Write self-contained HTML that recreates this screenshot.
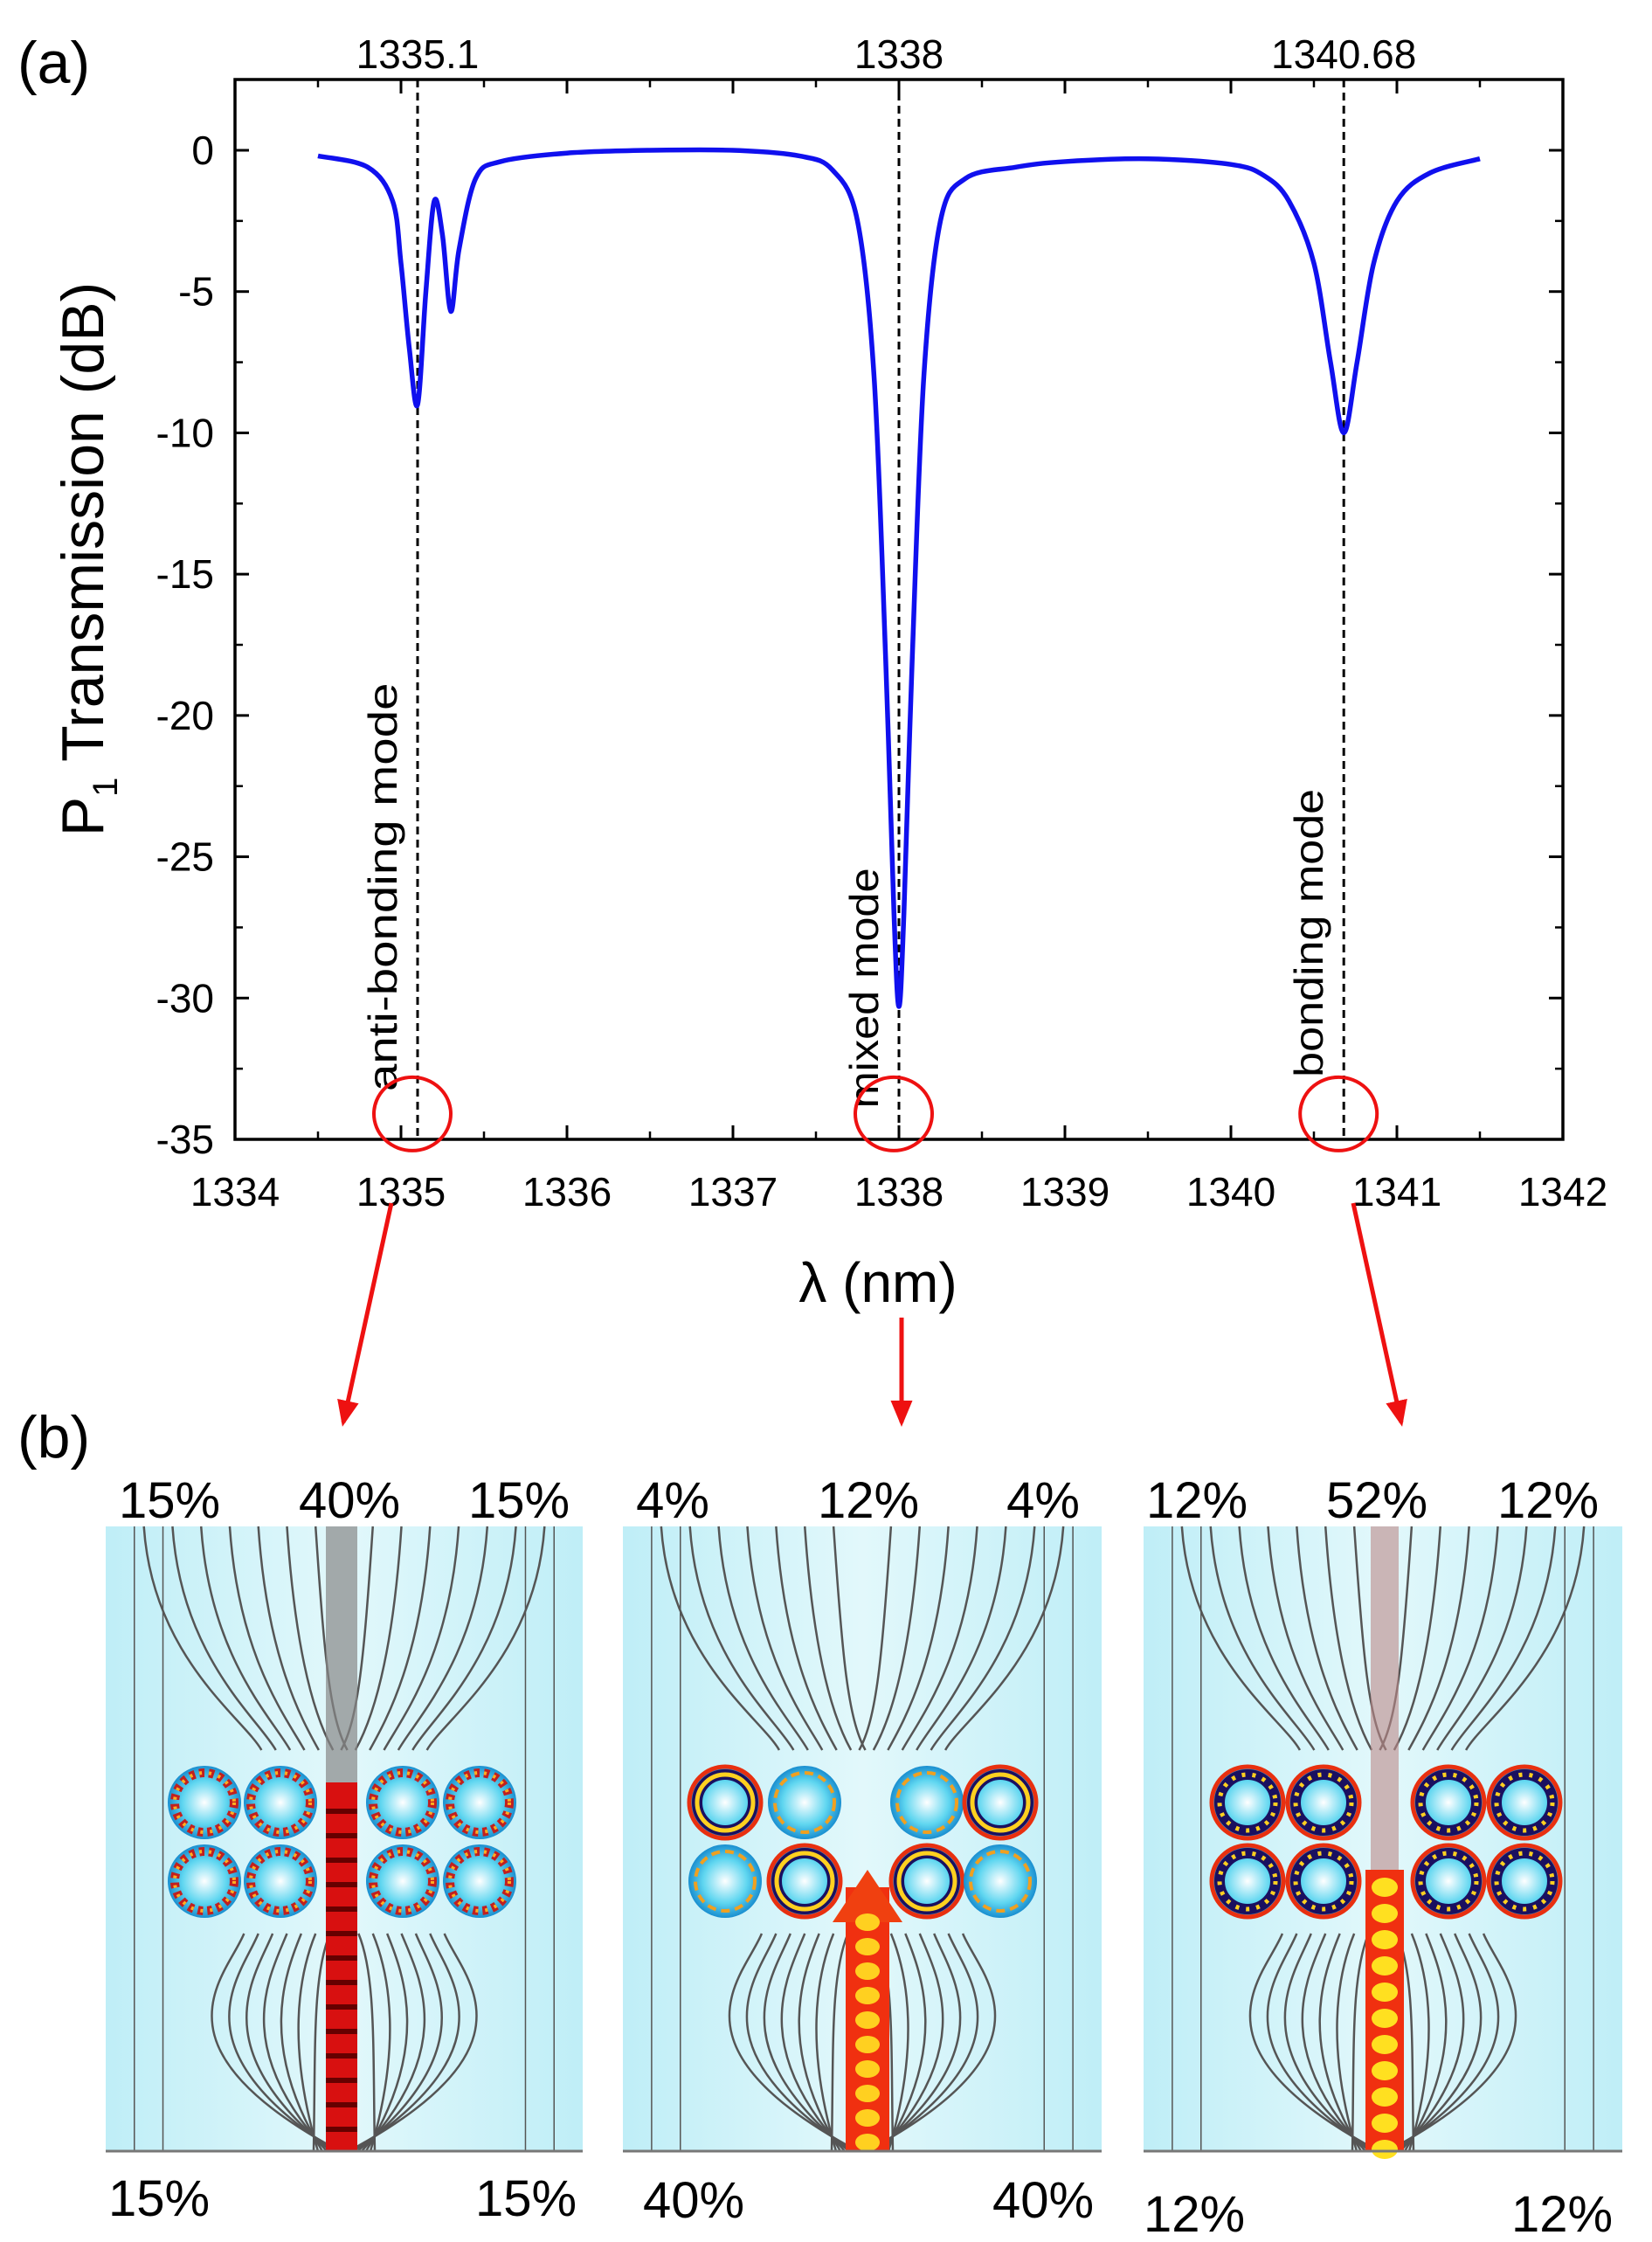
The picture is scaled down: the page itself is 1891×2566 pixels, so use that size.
<!DOCTYPE html>
<html><head><meta charset="utf-8"><style>
html,body{margin:0;padding:0;background:#fff;}
svg{display:block;font-family:"Liberation Sans",Arial,sans-serif;}
</style></head><body>
<svg id="fig" width="1891" height="2566" viewBox="0 0 1891 2566" xmlns="http://www.w3.org/2000/svg">
<defs>
<marker id="ah" markerWidth="30" markerHeight="30" refX="10" refY="5" orient="auto" markerUnits="userSpaceOnUse" viewBox="0 0 12 10"><path d="M0,0 L12,5 L0,10 z" fill="#ee1111"/></marker>
<linearGradient id="bgc" x1="0" x2="1"><stop offset="0" stop-color="#bfeef7"/><stop offset="0.5" stop-color="#e2f8fb"/><stop offset="1" stop-color="#bfeef7"/></linearGradient>
<radialGradient id="ringIn"><stop offset="0" stop-color="#ffffff"/><stop offset="0.6" stop-color="#5fd6f0"/><stop offset="1" stop-color="#1a8fd0"/></radialGradient>
</defs>
<text x="20" y="95" font-size="68">(a)</text>
<rect x="269" y="91" width="1520" height="1213" fill="none" stroke="#000" stroke-width="3.5"/>
<g id="chart-a"></g>
<text x="1005" y="1490" font-size="64" text-anchor="middle">λ (nm)</text>
<text transform="translate(118,640) rotate(-90)" font-size="68" text-anchor="middle">P<tspan font-size="40" dy="16">1</tspan><tspan dy="-16"> Transmission (dB)</tspan></text>
<line x1="448" y1="1377" x2="393" y2="1628" stroke="#ee1111" stroke-width="5" marker-end="url(#ah)"/>
<line x1="1032" y1="1508" x2="1032" y2="1628" stroke="#ee1111" stroke-width="5" marker-end="url(#ah)"/>
<line x1="1549" y1="1377" x2="1604" y2="1628" stroke="#ee1111" stroke-width="5" marker-end="url(#ah)"/>
<text x="20" y="1668" font-size="68">(b)</text>
<g id="panels-b"></g>
</svg>
<script>
var wavelengths = [1334.5,1334.8,1334.95,1335.0,1335.05,1335.1,1335.15,1335.2,1335.25,1335.3,1335.35,1335.45,1335.6,1336.0,1336.5,1337.0,1337.4,1337.6,1337.75,1337.85,1337.92,1337.97,1338.0,1338.03,1338.08,1338.15,1338.25,1338.4,1338.7,1339.0,1339.5,1340.0,1340.2,1340.35,1340.5,1340.6,1340.68,1340.76,1340.86,1341.0,1341.2,1341.5];
var transmissionDB = [-0.2,-0.6,-1.8,-4,-7,-9,-5,-1.8,-3,-5.7,-3.5,-1,-0.4,-0.1,0,0,-0.2,-0.7,-2.5,-8,-18,-27,-30.3,-27,-18,-8,-2.5,-1,-0.6,-0.4,-0.3,-0.5,-0.9,-1.8,-4,-7.5,-10,-7.5,-4,-1.8,-0.8,-0.3];
var xTicks = [1334,1335,1336,1337,1338,1339,1340,1341,1342];
var yTicks = [0,-5,-10,-15,-20,-25,-30,-35];
var modeWavelengths = [1335.1,1338,1340.68];
var modeTopLabels = ["1335.1","1338","1340.68"];
var modeNames = ["anti-bonding mode","mixed mode","bonding mode"];
var modeLabelDB = [-33.3,-33.9,-32.8];

var PL=269,PR=1789,PT0=91,PB0=1304,Y0=172;
var xMin=1334,xMax=1342,yMin=-35,yMax=0;
function sx(v){return PL+(v-xMin)/(xMax-xMin)*(PR-PL);}
function sy(v){return Y0+(v-yMax)/(yMin-yMax)*(PB0-Y0);}
var SVGNS="http://www.w3.org/2000/svg";
function mk(tag,attrs,parent,text){var e=document.createElementNS(SVGNS,tag);for(var k in attrs){e.setAttribute(k,String(attrs[k]));}if(text!==undefined){e.textContent=text;}parent.appendChild(e);return e;}
var cg=document.getElementById('chart-a');

try{
for(var i=0;i<xTicks.length;i++){
  var v=xTicks[i],x=sx(v);
  mk('line',{x1:x,y1:PB0,x2:x,y2:PB0-16,stroke:'#000','stroke-width':3},cg);
  mk('line',{x1:x,y1:PT0,x2:x,y2:PT0+16,stroke:'#000','stroke-width':3},cg);
  if(i<xTicks.length-1){var xm=sx(v+0.5);mk('line',{x1:xm,y1:PB0,x2:xm,y2:PB0-9,stroke:'#000','stroke-width':2.5},cg);mk('line',{x1:xm,y1:PT0,x2:xm,y2:PT0+9,stroke:'#000','stroke-width':2.5},cg);}
  var lb=mk('text',{x:x,y:PB0+76,'font-size':46,'text-anchor':'middle'},cg,String(v));
  
  
}
for(var j=0;j<yTicks.length;j++){
  var yv=yTicks[j],y=sy(yv);
  mk('line',{x1:PL,y1:y,x2:PL+16,y2:y,stroke:'#000','stroke-width':3},cg);
  mk('line',{x1:PR,y1:y,x2:PR-16,y2:y,stroke:'#000','stroke-width':3},cg);
  var ym=sy(yv+2.5);
  mk('line',{x1:PL,y1:ym,x2:PL+9,y2:ym,stroke:'#000','stroke-width':2.5},cg);
  mk('line',{x1:PR,y1:ym,x2:PR-9,y2:ym,stroke:'#000','stroke-width':2.5},cg);
  var yl=mk('text',{x:PL-24,y:y+16,'font-size':46,'text-anchor':'end'},cg,String(yv));
  
  
}
}catch(e){}

try{
for(var m=0;m<modeWavelengths.length;m++){
  var mx=sx(modeWavelengths[m]);
  var ln=mk('line',{x1:mx,y1:PT0,x2:mx,y2:PB0,stroke:'#000','stroke-width':3,'stroke-dasharray':'9,6'},cg);
  
  
  var tl=mk('text',{x:mx,y:78,'font-size':46,'text-anchor':'middle'},cg,modeTopLabels[m]);
  
  
  var ml=mk('text',{transform:'translate('+(mx-24)+','+sy(modeLabelDB[m])+') rotate(-90)','font-size':46,textLength:(modeNames[m].length*27.5),lengthAdjust:'spacingAndGlyphs'},cg,modeNames[m]);
  
  
  var ce=mk('ellipse',{cx:mx-6,cy:sy(-34.1),rx:44,ry:42,fill:'none',stroke:'#ee1111','stroke-width':4},cg);
  
  
}
}catch(e){}

try{
var pts=[];
for(var q=0;q<wavelengths.length;q++){pts.push([sx(wavelengths[q]),sy(transmissionDB[q])]);}
var pd='M'+pts[0][0]+','+pts[0][1];
for(var n=0;n<pts.length-1;n++){
  var p0=pts[Math.max(0,n-1)],p1=pts[n],p2=pts[n+1],p3=pts[Math.min(pts.length-1,n+2)];
  pd+=' C'+(p1[0]+(p2[0]-p0[0])/6)+','+(p1[1]+(p2[1]-p0[1])/6)+' '+(p2[0]-(p3[0]-p1[0])/6)+','+(p2[1]-(p3[1]-p1[1])/6)+' '+p2[0]+','+p2[1];
}
var cv=mk('path',{d:pd,fill:'none',stroke:'#1010ee','stroke-width':5.5,'stroke-linejoin':'round'},cg);


}catch(e){}

try{
var PG=document.getElementById('panels-b');
var panelDefs=[
 {x:121,w:546,stripe:391,rings:[234,321,461,549],big:[],topL:['15%','40%','15%'],topX:[194,400,594],botL:['15%','15%'],botX:[182,602],type:'a',by:2512},
 {x:713,w:548,stripe:993,rings:[830,921,1061,1145],big:['0-0','0-3','1-1','1-2'],topL:['4%','12%','4%'],topX:[770,994,1194],botL:['40%','40%'],botX:[794,1194],type:'m',by:2514},
 {x:1309,w:548,stripe:1585,rings:[1428,1515,1658,1745],big:'all',topL:['12%','52%','12%'],topX:[1370,1576,1772],botL:['12%','12%'],botX:[1367,1788],type:'b',by:2530}
];
var QT=1747,QB=2462,rowY=[2063,2153];
for(var pi=0;pi<panelDefs.length;pi++){
  var p=panelDefs[pi];
  var pg=mk('g',{},PG);
  
  
  mk('rect',{x:p.x,y:QT,width:p.w,height:QB-QT,fill:'url(#bgc)'},pg);
  var fr=[0.06,0.12,0.88,0.94];
  for(var a=0;a<fr.length;a++){mk('line',{x1:p.x+p.w*fr[a],y1:QT,x2:p.x+p.w*fr[a],y2:QB,stroke:'#555','stroke-width':1.5},pg);}
  var cx=p.x+p.w/2;
  for(var k=0;k<7;k++){
    var fx=0.08+k*0.06;
    for(var s=-1;s<=1;s+=2){
      var off=(0.5-fx)*p.w*s, x0=cx-off, x1=cx-off*0.5;
      mk('path',{d:'M'+x0+','+QT+' C'+(x0+s*10)+','+(QT+150)+' '+x1+','+(QT+220)+' '+(x1+s*20)+','+(rowY[0]-60)+' M'+x1+','+(rowY[1]+60)+' C'+(x1-s*20)+','+(QB-200)+' '+x0+','+(QB-120)+' '+(cx-s*20*(k+1)/4)+','+QB,fill:'none',stroke:'#555','stroke-width':2.5},pg);
    }
  }
  if(p.type==='a'){
    mk('rect',{x:p.stripe-18,y:QT,width:36,height:QB-QT,fill:'#888',opacity:0.7},pg);
    mk('rect',{x:p.stripe-18,y:2040,width:36,height:QB-2040,fill:'#d81010'},pg);
    for(var yy=2070;yy<QB;yy+=28){mk('rect',{x:p.stripe-18,y:yy,width:36,height:6,fill:'#600'},pg);}
  } else if(p.type==='m'){
    mk('rect',{x:p.stripe-25,y:2160,width:50,height:QB-2160,fill:'#f03010'},pg);
    mk('path',{d:'M'+(p.stripe-40)+',2200 L'+p.stripe+',2140 L'+(p.stripe+40)+',2200 z',fill:'#f04010'},pg);
    for(var y2=2200;y2<QB;y2+=28){mk('ellipse',{cx:p.stripe,cy:y2,rx:14,ry:10,fill:'#ffd020'},pg);}
  } else {
    mk('rect',{x:p.stripe-16,y:QT,width:32,height:2140-QT,fill:'#b88',opacity:0.6},pg);
    mk('rect',{x:p.stripe-22,y:2140,width:44,height:QB-2140,fill:'#f03010'},pg);
    for(var y3=2160;y3<QB;y3+=30){mk('ellipse',{cx:p.stripe,cy:y3,rx:15,ry:11,fill:'#ffe020'},pg);}
  }
  for(var ri=0;ri<2;ri++){for(var ci=0;ci<4;ci++){
    var rx=p.rings[ci], ry=rowY[ri];
    var big=(p.big==='all')||(p.big.indexOf(ri+'-'+ci)>=0);
    var rg=mk('g',{},pg);
    
    
    mk('circle',{cx:rx,cy:ry,r:42,fill:'url(#ringIn)'},rg);
    if(big){
      mk('circle',{cx:rx,cy:ry,r:41,fill:'none',stroke:'#e83010','stroke-width':5},rg);
      mk('circle',{cx:rx,cy:ry,r:32,fill:'none',stroke:'#1a1060','stroke-width':12},rg);
      mk('circle',{cx:rx,cy:ry,r:32,fill:'none',stroke:'#ffd020','stroke-width':5,'stroke-dasharray':(p.type==='b'?'4,8':'none')},rg);
    } else if(p.type==='a'){
      mk('circle',{cx:rx,cy:ry,r:34,fill:'none',stroke:'#c02020','stroke-width':10,'stroke-dasharray':'6,5'},rg);
      mk('circle',{cx:rx,cy:ry,r:34,fill:'none',stroke:'#ffb020','stroke-width':4,'stroke-dasharray':'3,8'},rg);
    } else {
      mk('circle',{cx:rx,cy:ry,r:34,fill:'none',stroke:'#f0a020','stroke-width':4,'stroke-dasharray':'10,6'},rg);
    }
  }}
  mk('line',{x1:p.x,y1:QB,x2:p.x+p.w,y2:QB,stroke:'#777','stroke-width':3},pg);
  for(var ti=0;ti<3;ti++){
    var te=mk('text',{x:p.topX[ti],y:1737,'font-size':58,'text-anchor':'middle'},pg,p.topL[ti]);
    
    
  }
  for(var bi=0;bi<2;bi++){
    var be=mk('text',{x:p.botX[bi],y:p.by+24,'font-size':58,'text-anchor':'middle'},pg,p.botL[bi]);
    
    
  }
}
}catch(e){}
</script>
</body></html>
